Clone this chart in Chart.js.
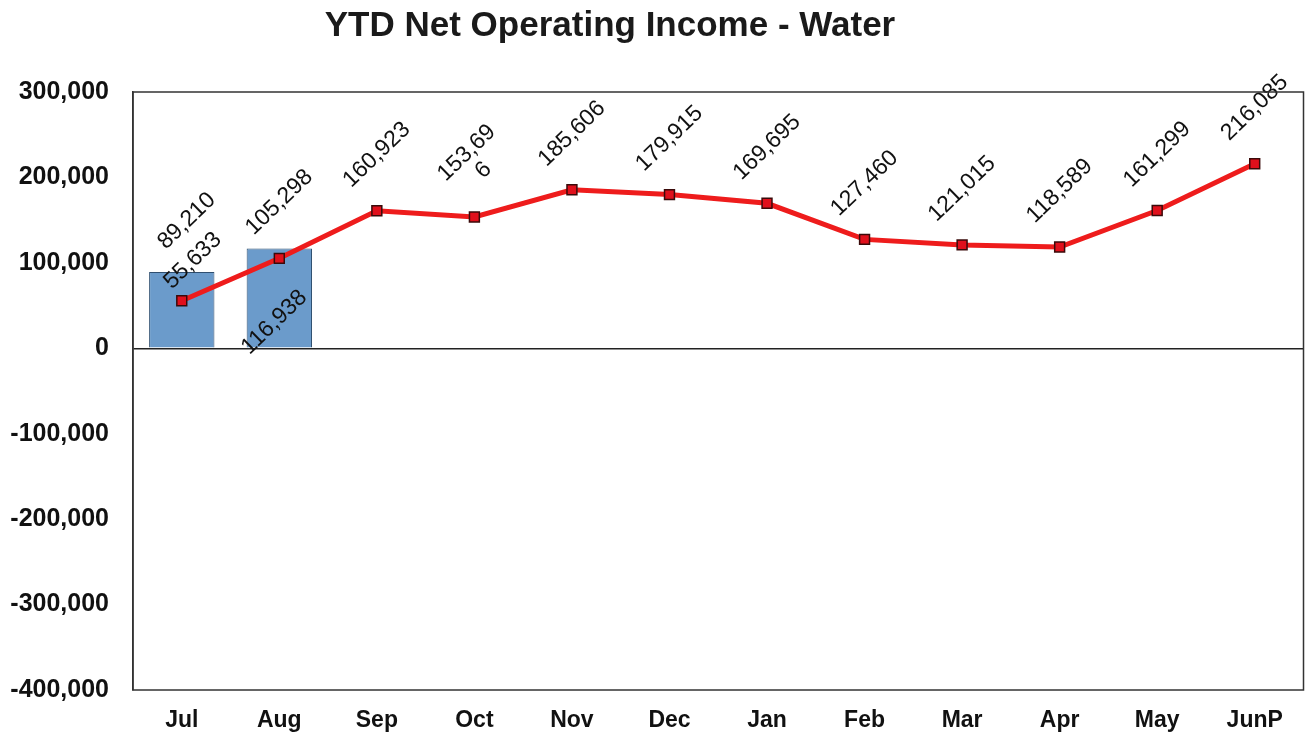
<!DOCTYPE html>
<html>
<head>
<meta charset="utf-8">
<script src="https://cdn.jsdelivr.net/npm/chart.js@4.4.0/dist/chart.umd.min.js"></script>
<style>
  html, body { margin: 0; padding: 0; background: #fff; overflow: hidden; }
  #wrap { width: 1312px; height: 732px; position: relative; }
  #noiChart { display: block; }
</style>
</head>
<body>
<div id="wrap"><canvas id="noiChart"></canvas></div>
<script>
// chart data
const months = ['Jul', 'Aug', 'Sep', 'Oct', 'Nov', 'Dec', 'Jan', 'Feb', 'Mar', 'Apr', 'May', 'JunP'];
const actualValues = [89210, 116938, null, null, null, null, null, null, null, null, null, null];
const projectedValues = [55633, 105298, 160923, 153696, 185606, 179915, 169695, 127460, 121015, 118589, 161299, 216085];
const yTicks = [300000, 200000, 100000, 0, -100000, -200000, -300000, -400000];
const chartTitle = 'YTD Net Operating Income - Water';

const fmt = v => v.toLocaleString('en-US');
const FONT = '"Liberation Sans", Arial, sans-serif';

// label nudges (px) to sit like the original excel labels
const barLabelShift = { 0: [5, -51], 1: [-5, 74] };
const lineLabelShift = { 0: [11, -40] };

// title is not centred on the canvas in the original, so draw it by hand
const titleText = {
    id: 'titleText',
    afterDraw(chart) {
        const c = chart.ctx;
        c.save();
        c.font = 'bold 35px ' + FONT;
        c.fillStyle = '#1a1a1a';
        c.textAlign = 'center';
        c.textBaseline = 'middle';
        c.fillText(chartTitle, 610, 26);
        c.restore();
    }
};

const borderBox = {
    id: 'borderBox',
    afterDraw(chart) {
        const { ctx, chartArea: a } = chart;
        ctx.save();
        ctx.strokeStyle = '#333';
        ctx.lineWidth = 1.5;
        ctx.strokeRect(a.left, a.top, a.right - a.left, a.bottom - a.top);
        ctx.restore();
    }
};

const valueLabels = {
    id: 'valueLabels',
    afterDatasetsDraw(chart) {
        const ctx = chart.ctx;
        ctx.save();
        ctx.font = '23px ' + FONT;
        ctx.fillStyle = '#111';
        ctx.textAlign = 'center';
        ctx.textBaseline = 'middle';
        chart.data.datasets.forEach((ds, di) => {
            const meta = chart.getDatasetMeta(di);
            meta.data.forEach((el, i) => {
                const v = ds.data[i];
                if (v === null || v === undefined) return;
                let dx, dy;
                if (ds.type === 'bar') {
                    [dx, dy] = barLabelShift[i] || [0, -50];
                } else {
                    [dx, dy] = lineLabelShift[i] || [0, -56];
                }
                ctx.save();
                ctx.translate(el.x + dx, el.y + dy);
                ctx.rotate(-44 * Math.PI / 180);
                const txt = fmt(v);
                if (i === 3 && ds.type === 'line') {
                    // excel wrapped this one
                    ctx.fillText(txt.slice(0, -1), 0, -11);
                    ctx.fillText(txt.slice(-1), 0, 13);
                } else {
                    ctx.fillText(txt, 0, 0);
                }
                ctx.restore();
            });
        });
        ctx.restore();
    }
};

const ctx = document.getElementById('noiChart');
new Chart(ctx, {
    data: {
        labels: months,
        datasets: [
            {
                type: 'line',
                label: 'Projected',
                data: projectedValues,
                borderColor: '#ee1c1c',
                borderWidth: 5,
                pointStyle: 'rect',
                pointRadius: 7,
                pointBackgroundColor: '#e0101c',
                pointBorderColor: '#3a0a0a',
                pointBorderWidth: 1.5,
                tension: 0,
                order: 0
            },
            {
                type: 'bar',
                label: 'Actual',
                data: actualValues,
                backgroundColor: '#6b9bcb',
                borderColor: '#2f4f70',
                borderWidth: 1,
                categoryPercentage: 0.67,
                barPercentage: 1,
                order: 1
            }
        ]
    },
    options: {
        responsive: true,
        maintainAspectRatio: false,
        animation: false,
        layout: { padding: { top: 92, right: 4, left: 0, bottom: 0 } },
        plugins: {
            legend: { display: false },
            tooltip: { enabled: false },
            title: { display: false }
        },
        scales: {
            x: {
                grid: { display: false },
                border: { display: false },
                ticks: {
                    color: '#111',
                    padding: 9,
                    font: { family: FONT, size: 23, weight: 'bold' }
                },
                afterFit(scale) { scale.height = 42; }
            },
            y: {
                min: -400000,
                max: 300000,
                afterBuildTicks(scale) { scale.ticks = yTicks.map(v => ({ value: v })); },
                grid: {
                    drawTicks: false,
                    color: c => c.tick && c.tick.value === 0 ? '#222' : 'rgba(0,0,0,0)',
                    lineWidth: 1.5
                },
                border: { display: true, color: '#333', width: 1.5 },
                ticks: {
                    color: '#111',
                    padding: 24,
                    callback: v => fmt(v),
                    font: { family: FONT, size: 25, weight: 'bold' }
                },
                afterFit(scale) { scale.width = 133; }
            }
        }
    },
    plugins: [borderBox, valueLabels, titleText]
});
</script>
</body>
</html>
